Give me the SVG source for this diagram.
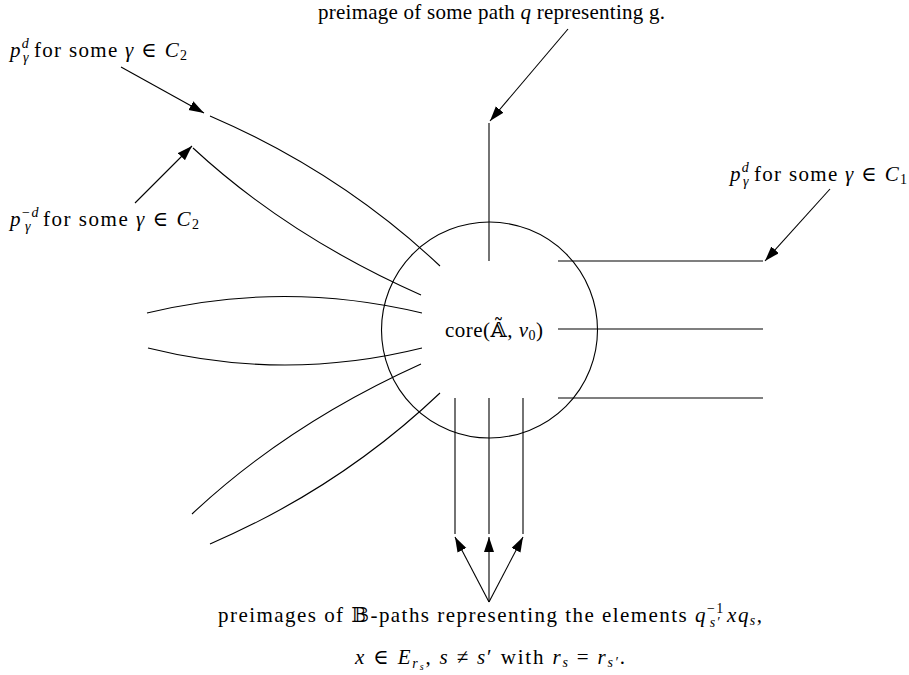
<svg xmlns="http://www.w3.org/2000/svg" width="909" height="675" viewBox="0 0 909 675">
<defs>
<marker id="ah" markerUnits="userSpaceOnUse" markerWidth="16" markerHeight="11" refX="15" refY="5" orient="auto">
<path d="M0,0 L15,5 L0,10 z" fill="#000"/>
</marker>
<style>
.t{font-family:"Liberation Serif","DejaVu Serif",serif;font-size:21px;fill:#000}
.i{font-style:italic}
.s{font-size:14px}
.ss{font-size:10px}
.ln{fill:none;stroke:#000;stroke-width:1.1}
.ar{fill:none;stroke:#000;stroke-width:1.1;marker-end:url(#ah)}
</style>
</defs>
<rect width="909" height="675" fill="#fff"/>
<g id="core">
<circle cx="489.5" cy="330" r="108" class="ln"/>
<text class="t" x="445" y="337" textLength="98" lengthAdjust="spacing">core(𝔸̃, <tspan class="i">v</tspan><tspan class="s" dy="3">0</tspan><tspan dy="-3">)</tspan></text>
</g>
<g id="connectors">
<path class="ln" d="M210,116 Q340,172 440,266"/>
<path class="ln" d="M193,148 Q288,236 421,295"/>
<path class="ln" d="M147,313 Q284,280 422,313"/>
<path class="ln" d="M148,348 Q285,382 422,348"/>
<path class="ln" d="M192,514 Q288,424 421,364"/>
<path class="ln" d="M210,544 Q340,488 440,393"/>
<line class="ln" x1="489" y1="123" x2="489" y2="261"/>
<line class="ln" x1="558" y1="261" x2="763" y2="261"/>
<line class="ln" x1="558" y1="329" x2="763" y2="329"/>
<line class="ln" x1="558" y1="398" x2="763" y2="398"/>
<line class="ln" x1="455" y1="398" x2="455" y2="534"/>
<line class="ln" x1="489" y1="398" x2="489" y2="534"/>
<line class="ln" x1="523" y1="398" x2="523" y2="534"/>
<line class="ar" x1="121" y1="67" x2="204" y2="113"/>
<line class="ar" x1="135" y1="203" x2="192" y2="146"/>
<line class="ar" x1="568" y1="29" x2="490" y2="121"/>
<line class="ar" x1="830" y1="189" x2="765" y2="261"/>
<line class="ar" x1="489" y1="602" x2="455" y2="537"/>
<line class="ar" x1="489" y1="602" x2="489" y2="537"/>
<line class="ar" x1="489" y1="602" x2="523" y2="537"/>
</g>
<g id="label-top">
<text class="t" x="318" y="19" textLength="347" lengthAdjust="spacing">preimage of some path <tspan class="i">q</tspan> representing g.</text>
</g>
<g id="label-pd-c2">
<text class="t" x="10" y="57" textLength="177" lengthAdjust="spacing"><tspan class="i">p</tspan><tspan class="s i" dy="-9">d</tspan><tspan class="s i" dx="-7" dy="14">γ</tspan><tspan dx="4" dy="-5">for some </tspan><tspan class="i">γ</tspan> ∈ <tspan class="i">C</tspan><tspan class="s" dy="3">2</tspan></text>
</g>
<g id="label-pmd-c2">
<text class="t" x="10" y="226" textLength="189" lengthAdjust="spacing"><tspan class="i">p</tspan><tspan class="s" dy="-9">−<tspan class="i">d</tspan></tspan><tspan class="s i" dx="-15" dy="14">γ</tspan><tspan dx="11" dy="-5">for some </tspan><tspan class="i">γ</tspan> ∈ <tspan class="i">C</tspan><tspan class="s" dy="3">2</tspan></text>
</g>
<g id="label-pd-c1">
<text class="t" x="730" y="181" textLength="177" lengthAdjust="spacing"><tspan class="i">p</tspan><tspan class="s i" dy="-9">d</tspan><tspan class="s i" dx="-7" dy="14">γ</tspan><tspan dx="4" dy="-5">for some </tspan><tspan class="i">γ</tspan> ∈ <tspan class="i">C</tspan><tspan class="s" dy="3">1</tspan></text>
</g>
<g id="label-bottom">
<text class="t" x="218" y="622" textLength="544" lengthAdjust="spacing">preimages of 𝔹-paths representing the elements <tspan class="i">q</tspan><tspan class="s" dy="-9">−1</tspan><tspan class="s i" dx="-15" dy="14">s′</tspan><tspan dx="6" class="i" dy="-5">xq</tspan><tspan class="s i" dy="3">s</tspan><tspan dy="-3">,</tspan></text>
<text class="t" x="355" y="664" textLength="270" lengthAdjust="spacing"><tspan class="i">x</tspan> ∈ <tspan class="i">E</tspan><tspan class="s i" dy="4">r</tspan><tspan class="ss i" dy="2">s</tspan><tspan dy="-6">, </tspan><tspan class="i">s</tspan> ≠ <tspan class="i">s</tspan>′ with <tspan class="i">r</tspan><tspan class="s i" dy="3">s</tspan><tspan dy="-3"> = </tspan><tspan class="i">r</tspan><tspan class="s i" dy="3">s′</tspan><tspan dy="-3">.</tspan></text>
</g>
</svg>
